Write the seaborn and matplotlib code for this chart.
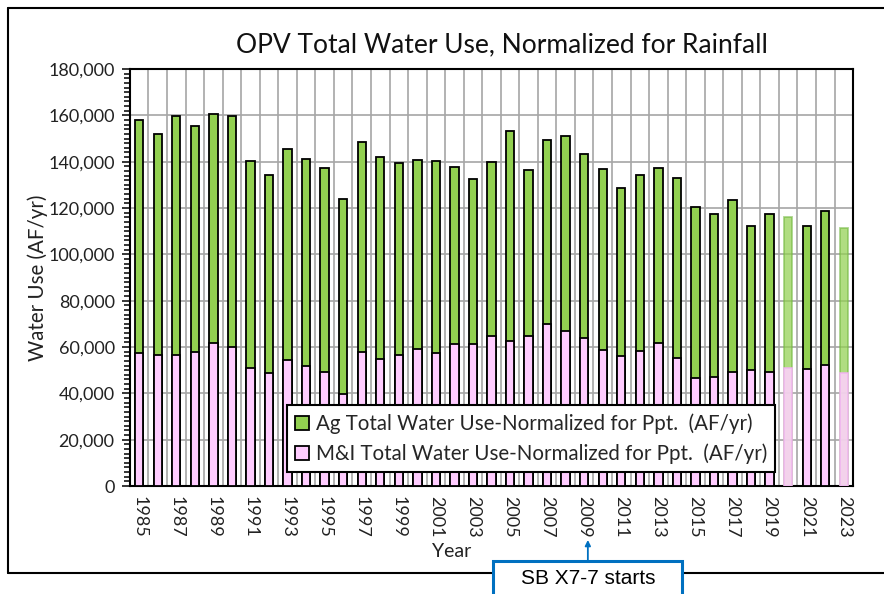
import numpy as np
import pandas as pd
import matplotlib
matplotlib.use("Agg")
import matplotlib.pyplot as plt
from matplotlib.patches import Rectangle, Patch
from matplotlib.ticker import MultipleLocator, FuncFormatter
import seaborn as sns

years = list(range(1985, 2024))
# M&I total water use normalized for precipitation (AF/yr)
mi_use = [57300, 56700, 56700, 57700, 61900, 59900, 50800, 48600, 54200, 51800,
          49100, 39600, 57700, 54800, 56400, 59300, 57300, 61400, 61400, 64600,
          62400, 64600, 69900, 67000, 64000, 58800, 56200, 58400, 61900, 55100,
          46500, 47200, 49100, 50100, 49100, 51100, 50500, 52200, 48600]
# Ag total water use normalized for precipitation (AF/yr)
ag_use = [100900, 95400, 103000, 97800, 98500, 99800, 89500, 85500, 91100, 89500,
          88100, 84300, 90800, 87400, 83100, 81500, 83100, 76100, 71200, 75100,
          90700, 71700, 79400, 83900, 79200, 77900, 72300, 75700, 75200, 78000,
          73800, 70100, 74200, 62100, 68200, 65200, 61700, 66500, 62900]
faded_years = [2020, 2023]

ag_label = "Ag Total Water Use-Normalized for Ppt.  (AF/yr)"
mi_label = "M&I Total Water Use-Normalized for Ppt.  (AF/yr)"

df = pd.DataFrame({"Year": [str(y) for y in years], "MI": mi_use, "Ag": ag_use})
df["Total"] = df["MI"] + df["Ag"]

green = "#92D050"
pink = "#FFCCFF"
txt = "#222222"

sns.set_style("white")
plt.rcParams["font.family"] = ["Lato", "DejaVu Sans"]

fig = plt.figure(figsize=(8.84, 5.94), dpi=100)
ax = fig.add_axes([0.147, 0.1818, 0.818, 0.702])

# stacked look: total (Ag on top) first, then M&I over it
sns.barplot(data=df, x="Year", y="Total", color=green, saturation=1, width=0.45,
            edgecolor="black", linewidth=1.3, ax=ax, zorder=3)
n = len(years)
sns.barplot(data=df, x="Year", y="MI", color=pink, saturation=1, width=0.45,
            edgecolor="black", linewidth=1.3, ax=ax, zorder=3)

# fade the partial / estimated years
for i, y in enumerate(years):
    if y in faded_years:
        p = ax.patches[i]
        p.set_facecolor((0.573, 0.816, 0.314, 0.72))
        p.set_edgecolor((0.45, 0.72, 0.25, 0.6))
        p = ax.patches[n + i]
        p.set_facecolor((1.0, 0.82, 1.0, 0.85))
        p.set_edgecolor((0.95, 0.70, 0.95, 0.8))

ax.set_xlim(-0.5, n - 0.5)
ax.set_ylim(0, 180000)
ax.yaxis.set_major_locator(MultipleLocator(20000))
ax.yaxis.set_minor_locator(MultipleLocator(2000))
ax.yaxis.set_major_formatter(FuncFormatter(lambda v, p: f"{int(v):,}"))

ax.set_xticks(range(n))
ax.set_xticklabels([str(y) if y % 2 == 1 else "" for y in years],
                   rotation=270, fontsize=13, color=txt)
ax.set_xticks(np.arange(-0.5, n, 1.0), minor=True)
ax.tick_params(axis="x", which="major", length=0, pad=7)
ax.tick_params(axis="x", which="minor", length=5, width=1.3, color="black", direction="out")
ax.tick_params(axis="y", which="major", length=6, width=1.3, direction="out",
               labelsize=13, labelcolor=txt, left=True, pad=5)
ax.tick_params(axis="y", which="minor", length=4, width=1.3, direction="out", left=True)

ax.grid(axis="y", which="major", color="#A6A6A6", linewidth=1.2, zorder=0)
ax.grid(axis="x", which="minor", color="#A6A6A6", linewidth=1.2, zorder=0)
ax.set_axisbelow(True)
for s in ax.spines.values():
    s.set_color("black")
    s.set_linewidth(1.5)

ax.set_xlabel("Year", fontsize=14, color=txt, va="center")
ax.xaxis.set_label_coords(0.445, -0.158)
ax.set_ylabel("Water Use (AF/yr)", fontsize=14.8, color=txt, labelpad=0)
ax.set_title("OPV Total Water Use, Normalized for Rainfall", fontsize=19,
             color="#111111", pad=12, x=0.515)

handles = [Patch(facecolor=green, edgecolor="black", linewidth=1.3, label=ag_label),
           Patch(facecolor=pink, edgecolor="black", linewidth=1.3, label=mi_label)]
leg = ax.legend(handles=handles, loc="lower left", bbox_to_anchor=(0.217, 0.033),
                fontsize=14.8, frameon=True, fancybox=False, framealpha=1,
                edgecolor="black", handlelength=0.7, handleheight=0.7,
                handletextpad=0.3, labelspacing=0.45, borderpad=0.4,
                borderaxespad=0)
leg.get_frame().set_linewidth(1.5)
leg.set_zorder(5)

# outer frame of the slide graphic
fig.add_artist(plt.Line2D([0.009, 1.0], [0.986, 0.986], color="black", lw=1.5))
fig.add_artist(plt.Line2D([0.009, 0.009], [0.035, 0.986], color="black", lw=1.5))
fig.add_artist(plt.Line2D([0.009, 1.0], [0.035, 0.035], color="black", lw=1.5))

# callout for SB X7-7
box = Rectangle((0.558, -0.05), 0.214, 0.106, transform=fig.transFigure,
                facecolor="white", edgecolor="#0070C0", lw=2.2, zorder=10)
fig.add_artist(box)
fig.text(0.665, 0.026, "SB X7-7 starts", ha="center", va="center", fontsize=15,
         family=["Liberation Sans", "DejaVu Sans"], color="black", zorder=11)
ax.annotate("", xy=(0.665, 0.091), xycoords="figure fraction",
            xytext=(0.665, 0.056), textcoords="figure fraction",
            arrowprops=dict(arrowstyle="-|>", color="#0070C0", lw=1.3,
                            mutation_scale=8, shrinkA=0, shrinkB=0))

fig.savefig("out.png", dpi=100)
